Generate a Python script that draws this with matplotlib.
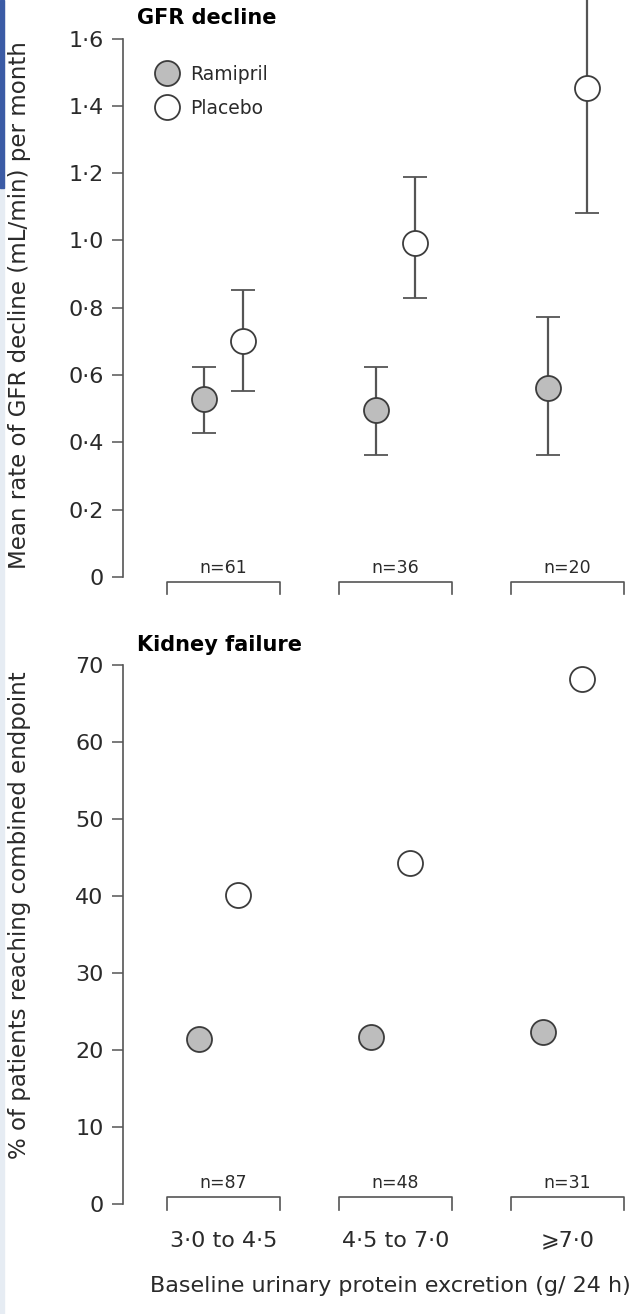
import matplotlib
matplotlib.use("Agg")
import matplotlib.pyplot as plt
from matplotlib.lines import Line2D
from matplotlib.patches import Rectangle

# proteinuria strata and subgroup sizes
groups = ['3·0 to 4·5', '4·5 to 7·0', '⩾7·0']
n_gfr = [61, 36, 20]
n_kidney = [87, 48, 31]

# GFR decline, mL/min per month (mean with lower/upper error bar ends)
ram_gfr = [0.53, 0.495, 0.563]
ram_gfr_lo = [0.427, 0.364, 0.364]
ram_gfr_hi = [0.625, 0.625, 0.773]
plc_gfr = [0.702, 0.993, 1.452]
plc_gfr_lo = [0.554, 0.829, 1.081]
plc_gfr_hi = [0.853, 1.188, 1.82]

# % reaching combined endpoint
ram_kf = [21.4, 21.7, 22.3]
plc_kf = [40.1, 44.3, 68.2]

gfr_ticks = [0, 0.2, 0.4, 0.6, 0.8, 1.0, 1.2, 1.4, 1.6]
gfr_ticklabels = ['0', '0·2', '0·4', '0·6', '0·8', '1·0', '1·2', '1·4', '1·6']
kf_ticks = [0, 10, 20, 30, 40, 50, 60, 70]

W, H = 638, 1314
GREY = '#555555'
FILL = '#bdbdbd'
EDGE = '#3c3c3c'
TXT = '#2a2a2a'

fig = plt.figure(figsize=(W / 100, H / 100), dpi=100)


def rect(x0, y0, x1, y1):
    return [x0 / W, 1 - y1 / H, (x1 - x0) / W, (y1 - y0) / H]


# page edge strip
fig.patches.append(Rectangle((0, 0), 4 / W, 1, transform=fig.transFigure,
                             color='#e6ecf3', zorder=0))
fig.patches.append(Rectangle((0, 1 - 188 / H), 4 / W, 188 / H,
                             transform=fig.transFigure, color='#3b5ba5', zorder=1))

ax1 = fig.add_axes(rect(123, 0, 638, 600))
ax2 = fig.add_axes(rect(123, 650, 638, 1225))

pos = [1, 2, 3]
d = 0.113
xl = (1 - 100.5 / 172, 1 + 414.5 / 172)
ms = 18


def style(ax, top):
    for s in ['top', 'right', 'bottom']:
        ax.spines[s].set_visible(False)
    ax.spines['left'].set_color(GREY)
    ax.spines['left'].set_linewidth(1.2)
    ax.spines['left'].set_bounds(0, top)
    ax.set_xlim(*xl)
    ax.tick_params(axis='y', direction='out', length=8, width=1.1, color=GREY,
                   labelsize=16, labelcolor=TXT, pad=6)
    ax.patch.set_visible(False)


def brackets(ax, ns, px_per_unit, top_px, end_px, text_px):
    # top_px / end_px / text_px are pixel offsets from the zero line (up = +)
    y_top = top_px / px_per_unit
    y_end = end_px / px_per_unit
    for p, n in zip(pos, ns):
        ax.plot([p - 0.326, p - 0.326, p + 0.326, p + 0.326],
                [y_end, y_top, y_top, y_end], color=GREY, lw=1.2,
                clip_on=False)
        ax.text(p, text_px / px_per_unit, f'n={n}', ha='center', va='center',
                fontsize=12.5, color=TXT)


# --- GFR decline ---
ppu1 = 336.5
ax1.set_ylim(-23 / ppu1, 577 / ppu1)
style(ax1, 1.6)
ax1.set_yticks(gfr_ticks, gfr_ticklabels)
ax1.set_xticks([])

ram_x = [p - d for p in pos]
plc_x = [p + d for p in pos]
ax1.errorbar(ram_x, ram_gfr,
             yerr=[[m - lo for m, lo in zip(ram_gfr, ram_gfr_lo)],
                   [hi - m for m, hi in zip(ram_gfr, ram_gfr_hi)]],
             fmt='o', ms=ms, mfc=FILL, mec=EDGE, mew=1.3,
             ecolor=GREY, elinewidth=1.6, capsize=8.6, capthick=1.6)
ax1.errorbar(plc_x, plc_gfr,
             yerr=[[m - lo for m, lo in zip(plc_gfr, plc_gfr_lo)],
                   [hi - m for m, hi in zip(plc_gfr, plc_gfr_hi)]],
             fmt='o', ms=ms, mfc='white', mec=EDGE, mew=1.3,
             ecolor=GREY, elinewidth=1.6, capsize=8.6, capthick=1.6)
brackets(ax1, n_gfr, ppu1, -5, -17, 9)
ax1.set_ylabel('Mean rate of GFR decline (mL/min) per month', fontsize=16.5,
               color=TXT)
ax1.yaxis.set_label_coords(-92 / 515, (600 - 305) / 600)

handles = [Line2D([], [], ls='none', marker='o', ms=ms, mfc=FILL, mec=EDGE, mew=1.3),
           Line2D([], [], ls='none', marker='o', ms=ms, mfc='white', mec=EDGE, mew=1.3)]
ax1.legend(handles, ['Ramipril', 'Placebo'], loc='upper left',
           bbox_to_anchor=(158 / W, 1 - 65 / H), bbox_transform=fig.transFigure,
           frameon=False, fontsize=13.5, handlelength=1.0, handletextpad=0.7,
           labelspacing=0.8, borderpad=0, borderaxespad=0, labelcolor=TXT)

fig.text(137 / W, 1 - 18 / H, 'GFR decline', fontsize=15, fontweight='bold',
         va='center', ha='left')

# --- Kidney failure ---
ppu2 = 7.7
ax2.set_ylim(-21 / ppu2, 70 + 15 / ppu2)
style(ax2, 70)
ax2.set_yticks(kf_ticks)
shift = -5 / 172
ax2.plot([x + shift for x in ram_x], ram_kf, 'o', ms=ms, mfc=FILL, mec=EDGE, mew=1.3)
ax2.plot([x + shift for x in plc_x], plc_kf, 'o', ms=ms, mfc='white', mec=EDGE, mew=1.3)
brackets(ax2, n_kidney, ppu2, 7, -6, 21)
ax2.set_xticks(pos, groups)
ax2.tick_params(axis='x', length=0, labelsize=16, labelcolor=TXT, pad=4)
ax2.set_ylabel('% of patients reaching combined endpoint', fontsize=16.5,
               color=TXT)
ax2.yaxis.set_label_coords(-92 / 515, (1225 - 915) / 575)
ax2.set_xlabel('Baseline urinary protein excretion (g/ 24 h)', fontsize=16,
               color=TXT)
ax2.xaxis.set_label_coords((390 - 123) / 515, -(1276 - 1225) / 575)

fig.text(137 / W, 1 - 645 / H, 'Kidney failure', fontsize=15, fontweight='bold',
         va='center', ha='left')

fig.savefig('out.png', dpi=100)
